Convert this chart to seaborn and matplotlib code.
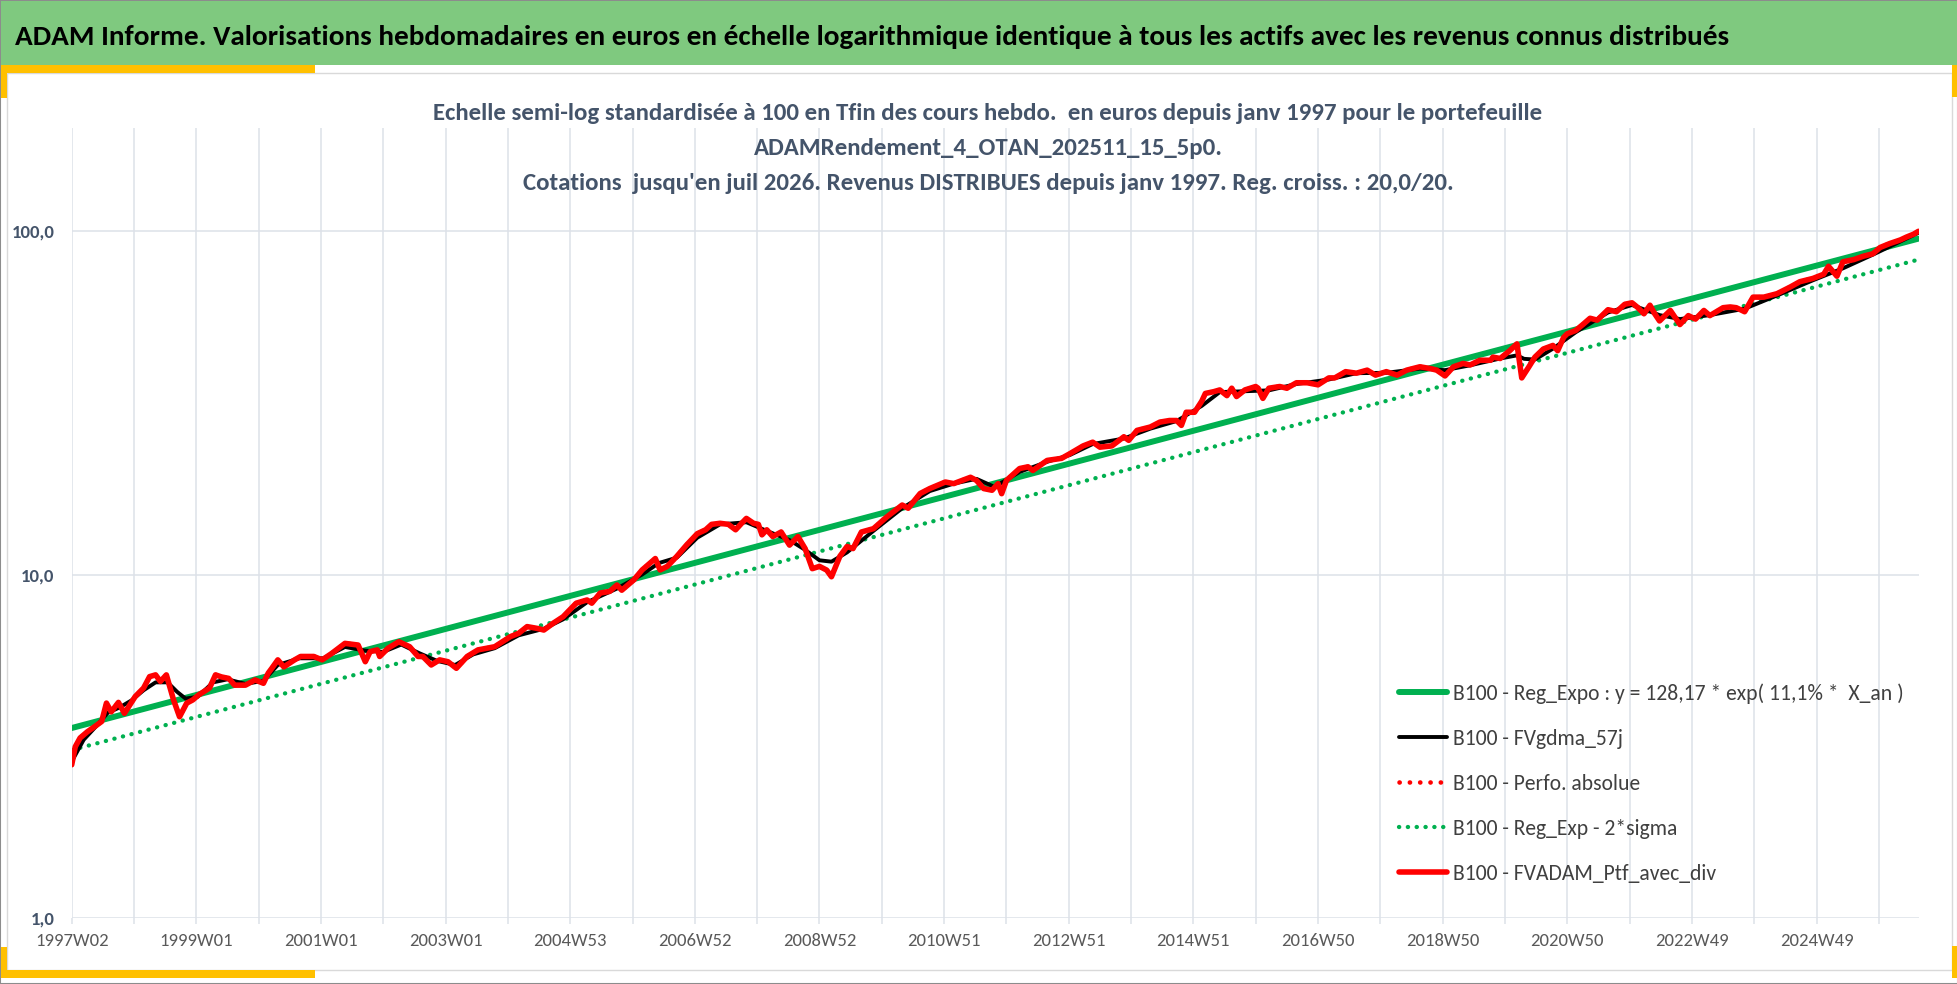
import matplotlib
matplotlib.use('Agg')
import matplotlib.pyplot as plt
import seaborn as sns
from matplotlib import font_manager
from matplotlib.patches import Rectangle
from matplotlib.ticker import FixedLocator, FixedFormatter, NullLocator

W, H = 1958, 984

# Valeurs (index de semaine depuis 1997W02, base 100 en fin)
ptf_weeks = [0, 3, 7, 13, 19, 25, 29, 33, 39, 44, 53, 60, 65, 70, 74, 79, 85, 90, 96, 101,
             106, 115, 120, 125, 131, 136, 145, 153, 160, 164, 167, 172, 177, 186, 191, 202, 209, 217, 228, 239,
             245, 249, 255, 257, 264, 273, 282, 289, 293, 300, 307, 314, 321, 330, 339, 353, 366, 373, 380, 388,
             394, 402, 410, 421, 430, 434, 441, 449, 455, 459, 469, 476, 487, 491, 497, 505, 513, 522, 529, 534,
             541, 548, 554, 559, 563, 569, 573, 576, 580, 585, 592, 599, 606, 612, 618, 624, 630, 634, 641, 647,
             652, 659, 669, 680, 693, 698, 708, 716, 729, 736, 750, 755, 761, 768, 773, 776, 780, 791, 798, 802,
             814, 826, 833, 844, 852, 858, 868, 878, 882, 889, 900, 908, 916, 922, 926, 930, 937, 943, 946, 953,
             958, 964, 968, 972, 979, 988, 990, 994, 999, 1008, 1014, 1022, 1031, 1040, 1049, 1054, 1063, 1072, 1081, 1088,
             1097, 1106, 1114, 1125, 1134, 1139, 1146, 1153, 1161, 1167, 1175, 1184, 1186, 1192, 1200, 1206, 1210, 1216, 1221, 1228,
             1236, 1240, 1245, 1248, 1255, 1261, 1267, 1273, 1282, 1289, 1296, 1302, 1307, 1312, 1317, 1321, 1325, 1334, 1342, 1349,
             1355, 1362, 1367, 1378, 1384, 1389, 1396, 1403, 1412, 1423, 1434, 1442, 1453, 1462, 1466, 1473, 1478, 1487, 1495, 1503,
             1509, 1517, 1526, 1531, 1537, 1541]
ptf_values = [2.79, 3.15, 3.34, 3.48, 3.60, 3.73, 4.22, 3.98, 4.24, 3.94, 4.41, 4.67, 5.04, 5.10, 4.88, 5.10, 4.31, 3.85, 4.22, 4.31,
              4.46, 4.67, 5.10, 5.03, 4.98, 4.76, 4.76, 4.93, 4.82, 5.16, 5.33, 5.64, 5.38, 5.64, 5.77, 5.77, 5.64, 5.89, 6.30, 6.23,
              5.57, 5.96, 6.03, 5.77, 6.10, 6.37, 6.16, 5.77, 5.77, 5.45, 5.64, 5.57, 5.33, 5.77, 6.03, 6.16, 6.59, 6.74, 7.05, 6.97,
              6.89, 7.22, 7.53, 8.25, 8.43, 8.25, 8.83, 8.93, 9.32, 9.00, 9.64, 10.31, 11.13, 10.31, 10.56, 11.30, 12.18, 13.15, 13.50, 14.00,
              14.10, 14.00, 13.50, 14.10, 14.57, 14.10, 14.00, 13.05, 13.50, 12.90, 13.30, 12.18, 12.90, 11.90, 10.40, 10.56, 10.30, 9.85, 11.30, 12.07,
              11.90, 13.30, 13.60, 14.70, 15.94, 15.60, 17.22, 17.80, 18.60, 18.40, 19.20, 18.80, 17.80, 17.60, 18.40, 17.20, 18.80, 20.36, 20.60, 20.10,
              21.50, 21.80, 22.50, 23.70, 24.30, 23.50, 23.70, 25.20, 24.60, 26.30, 26.90, 27.80, 28.10, 28.10, 27.20, 29.70, 29.70, 32.00, 33.70, 34.10,
              34.50, 33.20, 34.90, 33.00, 34.50, 35.30, 34.90, 32.60, 34.90, 35.30, 34.90, 36.20, 36.20, 35.70, 37.40, 37.40, 39.00, 38.60, 39.40, 38.10,
              39.00, 38.10, 39.40, 40.30, 39.80, 39.40, 37.90, 40.30, 41.20, 40.80, 42.10, 42.10, 43.00, 42.60, 44.90, 47.00, 37.40, 40.30, 43.00, 45.40,
              46.50, 44.90, 49.10, 50.30, 51.40, 53.50, 55.80, 55.10, 59.10, 58.30, 61.30, 61.90, 59.90, 57.50, 60.90, 57.50, 54.80, 58.80, 53.50, 56.80,
              55.50, 58.80, 56.80, 59.90, 60.20, 59.90, 58.30, 64.30, 64.30, 65.80, 68.80, 71.30, 72.90, 75.00, 79.10, 74.00, 81.50, 82.70, 84.60, 86.00,
              89.70, 92.10, 94.40, 96.20, 98.10, 100.00]

ma_weeks = [0, 10, 20, 30, 40, 50, 60, 70, 80, 88, 95, 105, 118, 130, 145, 160, 172, 190, 210, 228,
            245, 260, 275, 290, 305, 320, 335, 353, 373, 394, 410, 430, 455, 476, 490, 505, 522, 541, 563, 580,
            599, 612, 624, 634, 647, 669, 693, 716, 736, 755, 770, 791, 814, 833, 852, 878, 900, 922, 943, 958,
            979, 999, 1022, 1049, 1072, 1097, 1125, 1146, 1167, 1192, 1206, 1212, 1221, 1236, 1255, 1282, 1302, 1325, 1342, 1367,
            1396, 1423, 1453, 1478, 1503, 1541]
ma_values = [2.85, 3.30, 3.60, 3.95, 4.10, 4.30, 4.60, 4.85, 4.85, 4.55, 4.35, 4.40, 4.85, 4.95, 4.80, 4.90, 5.45, 5.70, 5.70, 6.15,
             6.00, 5.95, 6.25, 5.90, 5.60, 5.45, 5.85, 6.10, 6.65, 6.95, 7.40, 8.30, 9.10, 10.00, 10.80, 11.20, 12.80, 14.00, 14.20, 13.40,
             12.60, 11.80, 11.00, 10.90, 11.60, 13.40, 15.60, 17.50, 18.40, 19.00, 18.00, 19.90, 21.30, 22.30, 24.00, 24.90, 26.60, 28.00, 31.00, 34.00,
             34.20, 34.40, 35.90, 37.00, 38.60, 38.70, 39.80, 39.40, 40.70, 42.60, 43.50, 42.50, 42.30, 45.50, 50.80, 58.00, 61.00, 57.00, 55.50, 57.00,
             59.50, 65.00, 72.00, 78.00, 85.50, 99.00]

reg_weeks = [0, 1541]
reg_values = [3.57, 95.2]
sigma_values = [3.08, 82.7]

tick_labels = ['1997W02', '1999W01', '2001W01', '2003W01', '2004W53', '2006W52', '2008W52', '2010W51',
               '2012W51', '2014W51', '2016W50', '2018W50', '2020W50', '2022W49', '2024W49']
y_ticks = [1, 10, 100]
y_labels = ['1,0', '10,0', '100,0']

title = ("ADAM Informe. Valorisations hebdomadaires en euros en échelle logarithmique "
         "identique à tous les actifs avec les revenus connus distribués")
subtitle = ["Echelle semi-log standardisée à 100 en Tfin des cours hebdo.  en euros depuis janv 1997 pour le portefeuille",
            "ADAMRendement_4_OTAN_202511_15_5p0.",
            "Cotations  jusqu'en juil 2026. Revenus DISTRIBUES depuis janv 1997. Reg. croiss. : 20,0/20."]
names = ['B100 - Reg_Expo : y = 128,17 * exp( 11,1% *  X_an )', 'B100 - FVgdma_57j', 'B100 - Perfo. absolue',
         'B100 - Reg_Exp - 2*sigma', 'B100 - FVADAM_Ptf_avec_div']

GREEN = '#00B050'
RED = '#FF0000'
GRID = '#DDE1E8'
SLATE = '#44546A'

sns.set_theme(style='white')
installed = {f.name for f in font_manager.fontManager.ttflist}
font = next(f for f in ['Carlito', 'Liberation Sans Narrow', 'Lato', 'DejaVu Sans'] if f in installed)
plt.rcParams['font.family'] = [font, 'DejaVu Sans']

fig = plt.figure(figsize=(W / 100, H / 100), dpi=100)
renderer = fig.canvas.get_renderer()


def px_rect(x, y, w, h, **kw):
    fig.patches.append(Rectangle((x / W, 1 - (y + h) / H), w / W, h / H, transform=fig.transFigure,
                                 zorder=-10, **kw))


def fit_size(text, width_px, weight='normal'):
    t = fig.text(0, 0, text, fontsize=20, weight=weight)
    w = t.get_window_extent(renderer=renderer).width
    t.remove()
    return 20 * width_px / w


# cadre, bandeau et accents jaunes
px_rect(0, 0, W, H, facecolor='white', edgecolor='#8C8C8C', lw=1.5)
px_rect(7, 73, 1945, 897, facecolor='white', edgecolor='#D9D9D9', lw=1)
px_rect(1, 1, W - 2, 64, facecolor='#7FC97F', edgecolor='none')
px_rect(1, 65, 314, 8, facecolor='#FFC000', edgecolor='none')
px_rect(1, 65, 6, 33, facecolor='#FFC000', edgecolor='none')
px_rect(1, 970, 314, 8, facecolor='#FFC000', edgecolor='none')
px_rect(1, 947, 6, 31, facecolor='#FFC000', edgecolor='none')
px_rect(1952, 65, 5, 32, facecolor='#FFC000', edgecolor='none')
px_rect(1952, 946, 5, 32, facecolor='#FFC000', edgecolor='none')

fig.text(15 / W, 1 - 45 / H, title, ha='left', va='baseline', color='black', weight='bold',
         fontsize=fit_size(title, 1712, 'bold'))
sub_size = fit_size(subtitle[0], 1112, 'bold')
for line, base in zip(subtitle, [120, 155, 190]):
    fig.text(988 / W, 1 - base / H, line, ha='center', va='baseline', color=SLATE, weight='bold', fontsize=sub_size)

ax = fig.add_axes([71.7 / W, 1 - 917.7 / H, (1919 - 71.7) / W, (917.7 - 128) / H])
ax.set_facecolor('none')

sns.lineplot(x=reg_weeks, y=reg_values, ax=ax, color=GREEN, linewidth=4.3, label=names[0], errorbar=None)
sns.lineplot(x=reg_weeks, y=sigma_values, ax=ax, color=GREEN, linewidth=3.1, label=names[3], errorbar=None)
sns.lineplot(x=ma_weeks, y=ma_values, ax=ax, color='black', linewidth=2.8, label=names[1], errorbar=None)
sns.lineplot(x=ptf_weeks, y=ptf_values, ax=ax, color=RED, linewidth=3.3, label=names[2], errorbar=None)
sns.lineplot(x=ptf_weeks, y=ptf_values, ax=ax, color=RED, linewidth=4.0, label=names[4], errorbar=None)
lines = ax.get_lines()
lines[1].set_linestyle((0, (0.05, 2.0)))
lines[3].set_linestyle((0, (0.05, 2.2)))
for ln in (lines[1], lines[3]):
    ln.set_dash_capstyle('round')
for ln in (lines[2], lines[4]):
    ln.set_solid_joinstyle('round')

ax.set_yscale('log')
ax.set_ylim(1, 200)
ax.set_xlim(0, 1541.5)
ax.yaxis.set_major_locator(FixedLocator(y_ticks))
ax.yaxis.set_major_formatter(FixedFormatter(y_labels))
ax.yaxis.set_minor_locator(NullLocator())
ax.xaxis.set_major_locator(FixedLocator([104 * i for i in range(len(tick_labels))]))
ax.xaxis.set_major_formatter(FixedFormatter(tick_labels))
ax.xaxis.set_minor_locator(FixedLocator([52 + 104 * i for i in range(15)]))
ax.grid(True, which='both', axis='x', color=GRID, linewidth=1.1)
ax.grid(True, which='major', axis='y', color=GRID, linewidth=1.1)
ax.set_axisbelow(True)
for s in ax.spines.values():
    s.set_visible(False)
ax.tick_params(axis='x', which='both', direction='out', length=4.5, width=1.1, color=GRID,
               labelcolor='#595959', labelsize=13.4, pad=6.5, bottom=True)
ax.tick_params(axis='y', length=0, labelcolor=SLATE, labelsize=13.5, pad=12.5)
for lbl in ax.get_yticklabels():
    lbl.set_fontweight('bold')
ax.set_xlabel('')
ax.set_ylabel('')

handles, labels = ax.get_legend_handles_labels()
order = [labels.index(n) for n in names]
leg_size = fit_size(names[0], 450)
leg_px = leg_size * 1.389
ax.legend([handles[i] for i in order], [labels[i] for i in order], loc='upper left',
          bbox_to_anchor=(1399 / W, 1 - 683 / H), bbox_transform=fig.transFigure, frameon=False,
          fontsize=leg_size, handlelength=48 / leg_px, handletextpad=6 / leg_px,
          labelspacing=(51 - leg_px * 1.2) / leg_px, borderpad=0, borderaxespad=0,
          labelcolor='#404040')

fig.savefig('out.png', dpi=100)
